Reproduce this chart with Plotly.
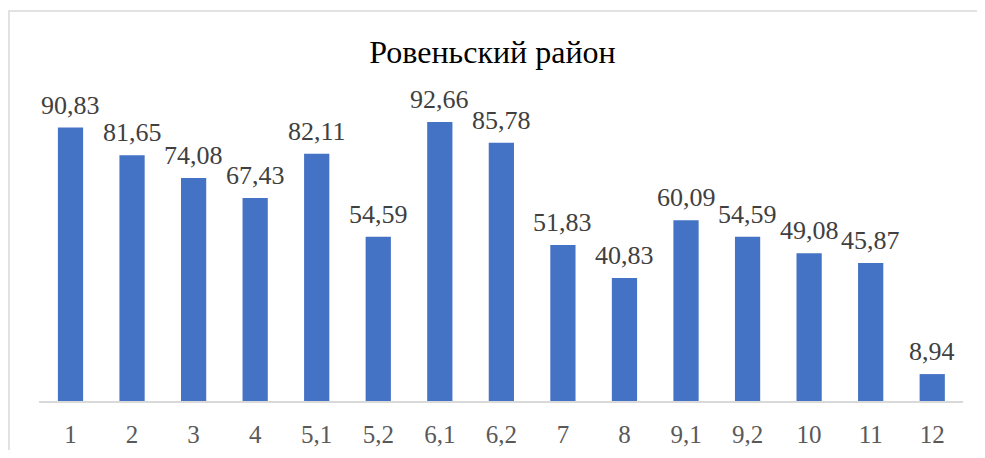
import plotly.graph_objects as go

categories = ["1", "2", "3", "4", "5,1", "5,2", "6,1", "6,2", "7", "8",
              "9,1", "9,2", "10", "11", "12"]
values = [90.83, 81.65, 74.08, 67.43, 82.11, 54.59, 92.66, 85.78, 51.83,
          40.83, 60.09, 54.59, 49.08, 45.87, 8.94]
labels = [f"{v:.2f}".replace(".", ",") for v in values]

FONT = "Liberation Serif, Times New Roman, serif"

fig = go.Figure()

fig.add_trace(go.Bar(
    x=categories,
    y=values,
    marker=dict(color="#4472C4", line=dict(width=0)),
))

# value labels sit a bit higher than plotly's own outside text;
# category strings like "1" would be read as indices, so use positions
for i, (val, lab) in enumerate(zip(values, labels)):
    fig.add_annotation(
        x=i, y=val, text=lab,
        showarrow=False, yanchor="bottom", yshift=6,
        font=dict(family=FONT, size=26, color="#404040"),
    )

# page body adds 8px margin, so the figure is 969x442
fig.update_layout(
    title=dict(
        text="Ровеньский район",
        x=0.5, xanchor="center",
        y=1 - 44 / 442, yanchor="middle",
        font=dict(family=FONT, size=32, color="#000000"),
    ),
    paper_bgcolor="#ffffff",
    plot_bgcolor="#ffffff",
    showlegend=False,
    bargap=0.59,
    width=969,
    height=442,
    margin=dict(l=31, r=14, t=92, b=49),
    xaxis=dict(
        type="category",
        automargin=False,
        showline=True,
        linecolor="#d9d9d9",
        linewidth=1.5,
        ticks="",
        ticklabelstandoff=10,
        tickfont=dict(family=FONT, size=25, color="#595959"),
        showgrid=False,
    ),
    yaxis=dict(
        range=[0, 100],
        visible=False,
        showgrid=False,
        zeroline=False,
    ),
    shapes=[dict(
        type="rect", xref="paper", yref="paper",
        x0=-0.0325, x1=1.2, y0=-0.4, y1=1.2957,
        line=dict(color="#d9d9d9", width=1.5),
        fillcolor="rgba(0,0,0,0)",
        layer="below",
    )],
)

fig.write_html("out.html")
